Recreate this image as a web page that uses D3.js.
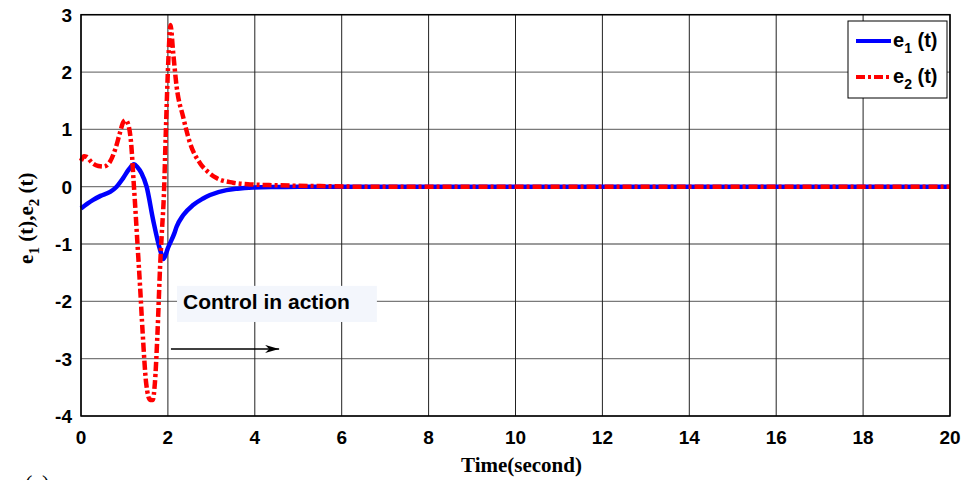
<!DOCTYPE html>
<html>
<head>
<meta charset="utf-8">
<script src="https://cdn.jsdelivr.net/npm/d3@7"></script>
<style>
  body { margin: 0; background: #fff; }
  svg { display: block; }
  .tick-label { font-family: "Liberation Sans", Arial, sans-serif; font-weight: bold; font-size: 19px; fill: #000; }
  .serif-label { font-family: "Liberation Serif", "Times New Roman", serif; font-weight: bold; font-size: 21px; fill: #000; }
</style>
</head>
<body>
<div id="chart"></div>
<script>
// e1(t): tracking error, blue solid
const t1 = [0, 0.14, 0.28, 0.45, 0.67, 0.82, 0.97, 1.1, 1.22, 1.3, 1.39, 1.51, 1.66, 1.82, 1.9, 2.0, 2.15, 2.2, 2.35, 2.58, 2.8, 2.97, 3.35, 3.6, 3.96, 4.5, 5, 20];
const e1 = [-0.38, -0.3, -0.23, -0.16, -0.09, 0.0, 0.15, 0.3, 0.39, 0.34, 0.24, 0.0, -0.58, -1.1, -1.26, -1.07, -0.81, -0.7, -0.5, -0.32, -0.21, -0.145, -0.06, -0.035, -0.015, -0.005, 0, 0];

// e2(t): red dash-dot
const t2 = [0, 0.07, 0.13, 0.25, 0.4, 0.52, 0.67, 0.8, 0.9, 0.97, 1.03, 1.1, 1.16, 1.21, 1.24, 1.3, 1.36, 1.42, 1.5, 1.59, 1.65, 1.7, 1.76, 1.82, 1.86, 1.91, 1.95, 2.01, 2.06, 2.12, 2.2, 2.35, 2.51, 2.74, 2.95, 3.12, 3.5, 3.89, 4.5, 5.5, 6.5, 20];
const e2 = [0.45, 0.53, 0.52, 0.42, 0.36, 0.35, 0.44, 0.68, 0.95, 1.12, 1.16, 1.05, 0.7, 0.1, -0.25, -1.0, -1.75, -2.56, -3.43, -3.72, -3.72, -3.43, -2.56, -1.4, -0.81, -0.1, 0.9, 2.2, 2.82, 2.35, 1.75, 1.22, 0.76, 0.41, 0.24, 0.15, 0.07, 0.04, 0.025, 0.01, 0, 0];

const xTicks = [0, 2, 4, 6, 8, 10, 12, 14, 16, 18, 20];
const yTicks = [-4, -3, -2, -1, 0, 1, 2, 3];
const legendNames = ['e', 'e'];
const legendSubs = ['1', '2'];

const width = 975, height = 480;
const margin = { top: 14.7, right: 25, bottom: 64, left: 81 };

const svg = d3.select('#chart').append('svg')
    .attr('width', width)
    .attr('height', height);

const x = d3.scaleLinear().domain([0, 20]).range([margin.left, width - margin.right]);
const y = d3.scaleLinear().domain([-4, 3]).range([height - margin.bottom, margin.top]);

// grid
svg.append('g')
  .selectAll('line')
    .data(yTicks)
  .enter().append('line')
    .attr('x1', x(0)).attr('x2', x(20))
    .attr('y1', d => y(d)).attr('y2', d => y(d))
    .attr('stroke', '#7a7a7a')
    .attr('stroke-width', 1.3);

svg.append('g')
  .selectAll('line')
    .data(xTicks)
  .enter().append('line')
    .attr('x1', d => x(d)).attr('x2', d => x(d))
    .attr('y1', y(-4)).attr('y2', y(3))
    .attr('stroke', '#222')
    .attr('stroke-width', 1);

// tick labels
svg.append('g')
  .selectAll('text')
    .data(yTicks)
  .enter().append('text')
    .attr('class', 'tick-label')
    .attr('x', x(0) - 9)
    .attr('y', d => y(d) + 7)
    .attr('text-anchor', 'end')
    .text(d => d);

svg.append('g')
  .selectAll('text')
    .data(xTicks)
  .enter().append('text')
    .attr('class', 'tick-label')
    .attr('x', d => x(d))
    .attr('y', y(-4) + 28)
    .attr('text-anchor', 'middle')
    .text(d => d);

// annotation box + arrow
const ann = { x0: 2.21, x1: 6.81, y0: -1.73, y1: -2.36 };
svg.append('rect')
    .attr('x', x(ann.x0)).attr('y', y(ann.y0))
    .attr('width', x(ann.x1) - x(ann.x0))
    .attr('height', y(ann.y1) - y(ann.y0))
    .attr('fill', '#f3f6fc');
svg.append('text')
    .attr('class', 'tick-label')
    .attr('x', x(ann.x0) + 6)
    .attr('y', y(-2) + 8)
    .style('font-size', '21px')
    .text('Control in action');

svg.append('defs').append('marker')
    .attr('id', 'arrow')
    .attr('viewBox', '0 0 14 8')
    .attr('refX', 14).attr('refY', 4)
    .attr('markerWidth', 14).attr('markerHeight', 8)
    .attr('markerUnits', 'userSpaceOnUse')
    .attr('orient', 'auto')
  .append('path')
    .attr('d', 'M0,0 L14,4 L0,8 L4,4 Z')
    .attr('fill', '#000');

svg.append('line')
    .attr('x1', x(2.07)).attr('x2', x(4.56))
    .attr('y1', y(-2.83)).attr('y2', y(-2.83))
    .attr('stroke', '#000')
    .attr('stroke-width', 1.5)
    .attr('marker-end', 'url(#arrow)');

// curves
const line = d3.line()
    .x(d => x(d[0]))
    .y(d => y(d[1]))
    .curve(d3.curveMonotoneX);

svg.append('path')
    .datum(d3.zip(t1, e1))
    .attr('d', line)
    .attr('fill', 'none')
    .attr('stroke', '#0000ff')
    .attr('stroke-width', 4.5);

svg.append('path')
    .datum(d3.zip(t2, e2))
    .attr('d', line)
    .attr('fill', 'none')
    .attr('stroke', '#ff0000')
    .attr('stroke-width', 4.5)
    .attr('stroke-dasharray', '9,3,3,3');

// frame
svg.append('rect')
    .attr('x', x(0)).attr('y', y(3))
    .attr('width', x(20) - x(0))
    .attr('height', y(-4) - y(3))
    .attr('fill', 'none')
    .attr('stroke', '#000')
    .attr('stroke-width', 1.5);

// legend
const lg = svg.append('g').attr('transform', 'translate(848,21)');
lg.append('rect')
    .attr('width', 99).attr('height', 77)
    .attr('fill', '#fff')
    .attr('stroke', '#000')
    .attr('stroke-width', 1);

const items = lg.selectAll('g.item')
    .data(legendNames)
  .enter().append('g')
    .attr('class', 'item')
    .attr('transform', (d, i) => `translate(0, ${20 + i * 36})`);

items.append('line')
    .attr('x1', 8).attr('x2', 43)
    .attr('stroke', (d, i) => i === 0 ? '#0000ff' : '#ff0000')
    .attr('stroke-width', 4)
    .attr('stroke-dasharray', (d, i) => i === 0 ? null : '9,3,3,3');

const lt = items.append('text')
    .attr('class', 'tick-label')
    .attr('x', 45)
    .attr('y', 6)
    .style('font-size', '20px');
lt.append('tspan').text(d => d);
lt.append('tspan').attr('dy', 6).style('font-size', '14px').text((d, i) => legendSubs[i]);
lt.append('tspan').attr('dy', -6).text(' (t)');

// axis labels
svg.append('text')
    .attr('class', 'serif-label')
    .attr('x', (x(0) + x(20)) / 2 + 6)
    .attr('y', 472)
    .attr('text-anchor', 'middle')
    .text('Time(second)');

const yl = svg.append('text')
    .attr('class', 'serif-label')
    .attr('transform', `translate(33, ${y(-0.55)}) rotate(-90)`)
    .attr('text-anchor', 'middle');
yl.append('tspan').text('e');
yl.append('tspan').attr('dy', 6).style('font-size', '15px').text('1');
yl.append('tspan').attr('dy', -6).text(' (t),e');
yl.append('tspan').attr('dy', 6).style('font-size', '15px').text('2');
yl.append('tspan').attr('dy', -6).text(' (t)');

svg.append('text')
    .attr('x', 25).attr('y', 490)
    .style('font-family', '"Liberation Serif", serif')
    .style('font-size', '22px')
    .text('(a)');
</script>
</body>
</html>
